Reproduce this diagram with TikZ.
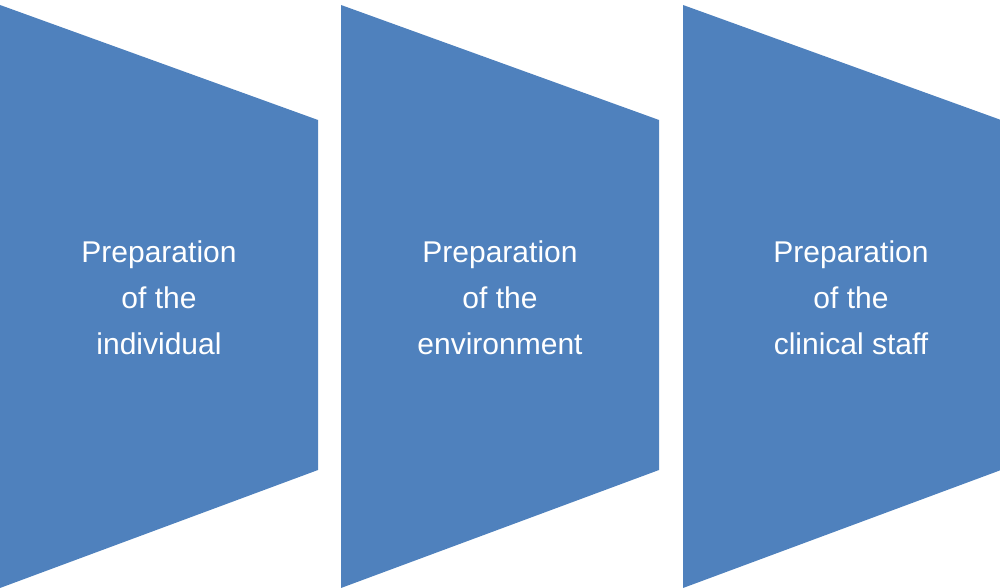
\documentclass[tikz,border=0pt]{standalone}
\usepackage{fontspec}
\setmainfont{Liberation Sans}
\begin{document}
\begin{tikzpicture}[x=1pt,y=1pt,
  trap/.style={fill={rgb,255:red,79;green,129;blue,189},draw=none},
  lab/.style={text=white,align=center,font=\fontsize{30}{46}\selectfont}]
\useasboundingbox (0,0) rectangle (1000,588);
\foreach \x/\n in {0/a,341/b,683/c}{
  \fill[trap] (\x,583) -- (\x+318,468) -- (\x+318,118) -- (\x,0) -- cycle;
}
\node[lab] (ta) at (159,290) {Preparation\\of the\\individual};
\node[lab] (tb) at (500,290) {Preparation\\of the\\environment};
\node[lab] (tc) at (851,290) {Preparation\\of the\\clinical staff};
\end{tikzpicture}
\end{document}
